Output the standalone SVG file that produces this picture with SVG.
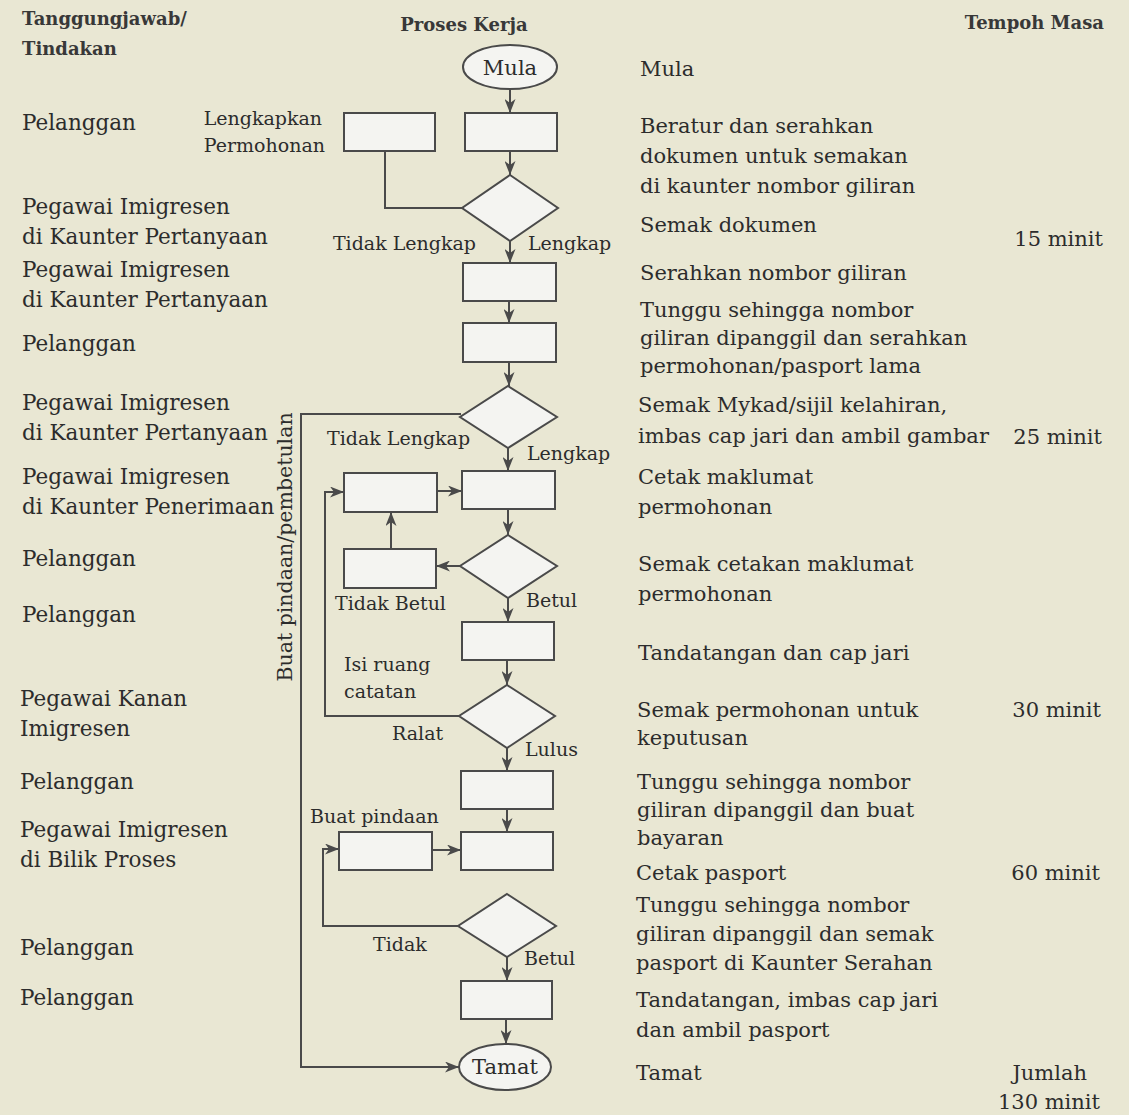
<svg xmlns="http://www.w3.org/2000/svg" width="1129" height="1115" viewBox="0 0 1129 1115">
<style>
.bg{fill:#e9e7d3}
.box{fill:#f4f4f1;stroke:#4a4a4a;stroke-width:2}
.ln{fill:none;stroke:#4a4a4a;stroke-width:2}
text{font-family:"DejaVu Serif","Liberation Serif",serif;fill:#2c2c2c}
.h{font-weight:bold;font-size:18px;fill:#383838}
.t{font-size:21px}
.l{font-size:21.5px}
.s{font-size:19px}
.v{font-size:20.5px}
.r{text-anchor:end}
.c{text-anchor:middle}
</style>
<defs>
<marker id="ar" viewBox="0 0 14 11" refX="14" refY="5.5" markerWidth="14" markerHeight="11" markerUnits="userSpaceOnUse" orient="auto">
<path d="M0,0 L14,5.5 L0,11 L4,5.5 Z" fill="#4a4a4a"/>
</marker>
</defs>
<rect class="bg" x="0" y="0" width="1129" height="1115"/>

<g id="headers">
<text class="h" x="22" y="25">Tanggungjawab/</text>
<text class="h" x="22" y="55">Tindakan</text>
<text class="h c" x="464" y="31">Proses Kerja</text>
<text class="h r" x="1104" y="29">Tempoh Masa</text>
</g>

<g id="responsibility">
<text class="l" x="22" y="130">Pelanggan</text>
<text class="l" x="22" y="214">Pegawai Imigresen</text>
<text class="l" x="22" y="244">di Kaunter Pertanyaan</text>
<text class="l" x="22" y="277">Pegawai Imigresen</text>
<text class="l" x="22" y="307">di Kaunter Pertanyaan</text>
<text class="l" x="22" y="351">Pelanggan</text>
<text class="l" x="22" y="410">Pegawai Imigresen</text>
<text class="l" x="22" y="440">di Kaunter Pertanyaan</text>
<text class="l" x="22" y="484">Pegawai Imigresen</text>
<text class="l" x="22" y="514">di Kaunter Penerimaan</text>
<text class="l" x="22" y="566">Pelanggan</text>
<text class="l" x="22" y="622">Pelanggan</text>
<text class="l" x="20" y="706">Pegawai Kanan</text>
<text class="l" x="20" y="736">Imigresen</text>
<text class="l" x="20" y="789">Pelanggan</text>
<text class="l" x="20" y="837">Pegawai Imigresen</text>
<text class="l" x="20" y="867">di Bilik Proses</text>
<text class="l" x="20" y="955">Pelanggan</text>
<text class="l" x="20" y="1005">Pelanggan</text>
</g>

<g id="connectors">
<path class="ln" marker-end="url(#ar)" d="M510,89 V113"/>
<path class="ln" marker-end="url(#ar)" d="M510,151 V175"/>
<path class="ln" d="M385,151 V208 H462"/>
<path class="ln" marker-end="url(#ar)" d="M510,241 V263"/>
<path class="ln" marker-end="url(#ar)" d="M509,301 V323"/>
<path class="ln" marker-end="url(#ar)" d="M509,362 V386"/>
<path class="ln" marker-end="url(#ar)" d="M461,414 H301 V1067 H459"/>
<path class="ln" marker-end="url(#ar)" d="M508,448 V471"/>
<path class="ln" marker-end="url(#ar)" d="M437,491 H462"/>
<path class="ln" marker-end="url(#ar)" d="M508,509 V535"/>
<path class="ln" marker-end="url(#ar)" d="M460,566 H436"/>
<path class="ln" marker-end="url(#ar)" d="M391,549 V512"/>
<path class="ln" marker-end="url(#ar)" d="M508,598 V622"/>
<path class="ln" marker-end="url(#ar)" d="M507,660 V685"/>
<path class="ln" marker-end="url(#ar)" d="M459,716 H325 V492 H344"/>
<path class="ln" marker-end="url(#ar)" d="M507,748 V771"/>
<path class="ln" marker-end="url(#ar)" d="M507,809 V832"/>
<path class="ln" marker-end="url(#ar)" d="M432,850 H461"/>
<path class="ln" marker-end="url(#ar)" d="M458,926 H323 V849 H339"/>
<path class="ln" marker-end="url(#ar)" d="M507,957 V981"/>
<path class="ln" marker-end="url(#ar)" d="M506,1019 V1044"/>
</g>

<g id="n-mula"><ellipse class="box" cx="510" cy="67" rx="47" ry="22"/><text class="t c" x="510" y="75">Mula</text></g>
<g id="n-lengkapkan"><rect class="box" x="344" y="113" width="91" height="38"/></g>
<g id="n-beratur"><rect class="box" x="465" y="113" width="92" height="38"/></g>
<g id="n-semak-dokumen"><polygon class="box" points="510,175 558,208 510,241 462,208"/></g>
<g id="n-serahkan-nombor"><rect class="box" x="463" y="263" width="93" height="38"/></g>
<g id="n-tunggu1"><rect class="box" x="463" y="323" width="93" height="39"/></g>
<g id="n-semak-mykad"><polygon class="box" points="508,386 557,417 508,448 460,417"/></g>
<g id="n-pembetulan"><rect class="box" x="344" y="473" width="93" height="39"/></g>
<g id="n-cetak-maklumat"><rect class="box" x="462" y="471" width="93" height="38"/></g>
<g id="n-semak-cetakan"><polygon class="box" points="508,535 557,566 508,598 460,566"/></g>
<g id="n-tidak-betul"><rect class="box" x="344" y="549" width="92" height="39"/></g>
<g id="n-tandatangan"><rect class="box" x="462" y="622" width="92" height="38"/></g>
<g id="n-semak-keputusan"><polygon class="box" points="507,685 555,716 507,748 459,716"/></g>
<g id="n-tunggu-bayaran"><rect class="box" x="461" y="771" width="92" height="38"/></g>
<g id="n-buat-pindaan"><rect class="box" x="339" y="832" width="93" height="38"/></g>
<g id="n-cetak-pasport"><rect class="box" x="461" y="832" width="92" height="38"/></g>
<g id="n-semak-pasport"><polygon class="box" points="507,894 556,926 507,957 458,926"/></g>
<g id="n-ambil-pasport"><rect class="box" x="461" y="981" width="91" height="38"/></g>
<g id="n-tamat"><ellipse class="box" cx="505" cy="1067" rx="46" ry="23"/><text class="t c" x="505" y="1074">Tamat</text></g>

<g id="labels">
<text class="s r" x="322" y="125">Lengkapkan</text>
<text class="s r" x="325" y="152">Permohonan</text>
<text class="s r" x="476" y="250">Tidak Lengkap</text>
<text class="s" x="528" y="250">Lengkap</text>
<text class="s" x="327" y="445">Tidak Lengkap</text>
<text class="s" x="527" y="460">Lengkap</text>
<text class="s" x="335" y="610">Tidak Betul</text>
<text class="s" x="526" y="607">Betul</text>
<text class="s" x="344" y="671">Isi ruang</text>
<text class="s" x="344" y="698">catatan</text>
<text class="s" x="392" y="740">Ralat</text>
<text class="s" x="525" y="756">Lulus</text>
<text class="s" x="310" y="823">Buat pindaan</text>
<text class="s" x="373" y="951">Tidak</text>
<text class="s" x="524" y="965">Betul</text>
<text class="v c" transform="translate(292,547) rotate(-90)">Buat pindaan/pembetulan</text>
</g>

<g id="steps">
<text class="t" x="640" y="76">Mula</text>
<text class="t" x="640" y="133">Beratur dan serahkan</text>
<text class="t" x="640" y="163">dokumen untuk semakan</text>
<text class="t" x="640" y="193">di kaunter nombor giliran</text>
<text class="t" x="640" y="232">Semak dokumen</text>
<text class="t" x="640" y="280">Serahkan nombor giliran</text>
<text class="t" x="640" y="317">Tunggu sehingga nombor</text>
<text class="t" x="640" y="345">giliran dipanggil dan serahkan</text>
<text class="t" x="640" y="373">permohonan/pasport lama</text>
<text class="t" x="638" y="412">Semak Mykad/sijil kelahiran,</text>
<text class="t" x="638" y="443">imbas cap jari dan ambil gambar</text>
<text class="t" x="638" y="484">Cetak maklumat</text>
<text class="t" x="638" y="514">permohonan</text>
<text class="t" x="638" y="571">Semak cetakan maklumat</text>
<text class="t" x="638" y="601">permohonan</text>
<text class="t" x="638" y="660">Tandatangan dan cap jari</text>
<text class="t" x="637" y="717">Semak permohonan untuk</text>
<text class="t" x="637" y="745">keputusan</text>
<text class="t" x="637" y="789">Tunggu sehingga nombor</text>
<text class="t" x="637" y="817">giliran dipanggil dan buat</text>
<text class="t" x="637" y="845">bayaran</text>
<text class="t" x="636" y="880">Cetak pasport</text>
<text class="t" x="636" y="912">Tunggu sehingga nombor</text>
<text class="t" x="636" y="941">giliran dipanggil dan semak</text>
<text class="t" x="636" y="970">pasport di Kaunter Serahan</text>
<text class="t" x="636" y="1007">Tandatangan, imbas cap jari</text>
<text class="t" x="636" y="1037">dan ambil pasport</text>
<text class="t" x="636" y="1080">Tamat</text>
</g>

<g id="durations">
<text class="t r" x="1103" y="246">15 minit</text>
<text class="t r" x="1102" y="444">25 minit</text>
<text class="t r" x="1101" y="717">30 minit</text>
<text class="t r" x="1100" y="880">60 minit</text>
<text class="t r" x="1087" y="1080">Jumlah</text>
<text class="t r" x="1100" y="1109">130 minit</text>
</g>
</svg>
